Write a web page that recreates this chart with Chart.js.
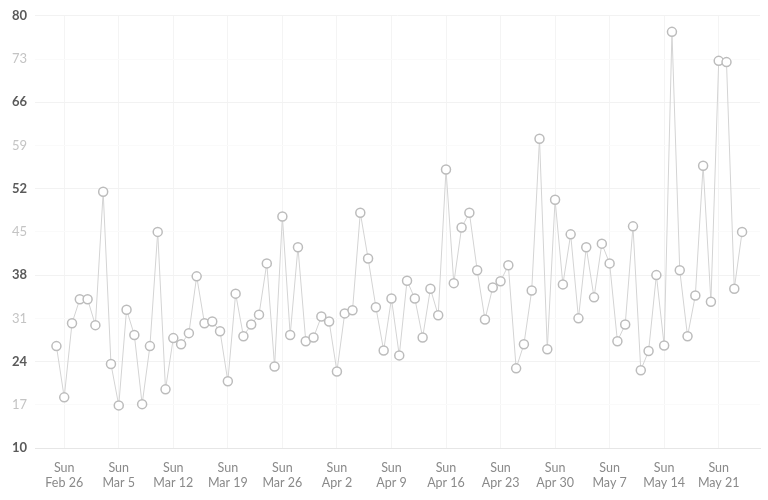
<!DOCTYPE html>
<html>
<head>
<meta charset="utf-8">
<style>
  html, body { margin: 0; padding: 0; background: #fff; }
  #wrap { width: 768px; height: 500px; }
</style>
<script src="https://cdn.jsdelivr.net/npm/chart.js@4"></script>
</head>
<body>
<div id="wrap"><canvas id="chart"></canvas></div>
<script>
// daily values, one per day starting Sat Feb 25
const values = [
  26.5, 18.2, 30.2, 34.1, 34.1, 29.9, 51.5, 23.6, 16.9, 32.4,
  28.3, 17.1, 26.5, 45.0, 19.5, 27.8, 26.8, 28.6, 37.8, 30.2,
  30.5, 28.9, 20.8, 35.0, 28.1, 30.0, 31.6, 39.9, 23.2, 47.5,
  28.3, 42.5, 27.3, 27.9, 31.3, 30.5, 22.4, 31.8, 32.3, 48.1,
  40.7, 32.8, 25.8, 34.2, 25.0, 37.1, 34.2, 27.9, 35.8, 31.5,
  55.1, 36.7, 45.7, 48.1, 38.8, 30.8, 36.0, 37.0, 39.6, 22.9,
  26.8, 35.5, 60.1, 26.0, 50.2, 36.5, 44.6, 31.0, 42.5, 34.4,
  43.1, 39.9, 27.3, 30.0, 45.9, 22.6, 25.7, 38.0, 26.6, 77.4,
  38.8, 28.1, 34.7, 55.7, 33.7, 72.7, 72.5, 35.8, 45.0,
];

// Sundays, as day offsets from the first value
const tickDays = [1, 8, 15, 22, 29, 36, 43, 50, 57, 64, 71, 78, 85];
const tickLabels = [
  "Feb 26", "Mar 5", "Mar 12", "Mar 19", "Mar 26", "Apr 2", "Apr 9",
  "Apr 16", "Apr 23", "Apr 30", "May 7", "May 14", "May 21",
];

const Y_MIN = 10;
const Y_MAX = 80;
const Y_STEP = 7;

const FONT = "Lato, 'Open Sans', sans-serif";

new Chart(document.getElementById("chart"), {
  type: "line",
  data: {
    datasets: [{
      data: values.map((v, i) => ({ x: i, y: v })),
      borderColor: "#d4d4d4",
      borderWidth: 1,
      pointRadius: 4.5,
      pointBorderWidth: 1.5,
      pointBorderColor: "#bcbcbc",
      pointBackgroundColor: "#ffffff",
      tension: 0,
      fill: false,
    }],
  },
  options: {
    responsive: true,
    maintainAspectRatio: false,
    animation: false,
    layout: { padding: { top: 9, right: 8, left: 0, bottom: -2 } },
    plugins: { legend: { display: false }, tooltip: { enabled: false } },
    scales: {
      x: {
        type: "linear",
        min: -2.75,
        max: 90.3,
        afterBuildTicks: (scale) => {
          scale.ticks = tickDays.map((d) => ({ value: d }));
        },
        grid: { color: "#f4f4f4", drawTicks: false },
        border: { color: "#e6e6e6" },
        ticks: {
          padding: 12,
          autoSkip: false,
          maxRotation: 0,
          color: "#8a8a8a",
          font: { family: FONT, size: 12.5 },
          callback: (value, idx) => ["Sun", tickLabels[idx]],
        },
      },
      y: {
        min: Y_MIN,
        max: Y_MAX,
        afterFit: (scale) => { scale.width = 35; },
        grid: {
          drawTicks: false,
          color: (ctx) => (ctx.index % 2 === 0 ? "#f2f2f2" : "#fafafa"),
        },
        border: { display: false },
        ticks: {
          stepSize: Y_STEP,
          padding: 8,
          color: (ctx) => (ctx.index % 2 === 0 ? "#5a5a5a" : "#c4c4c4"),
          font: (ctx) => ({ family: FONT, size: 13, weight: ctx.index % 2 === 0 ? "bold" : "normal" }),
        },
      },
    },
  },
});
</script>
</body>
</html>
